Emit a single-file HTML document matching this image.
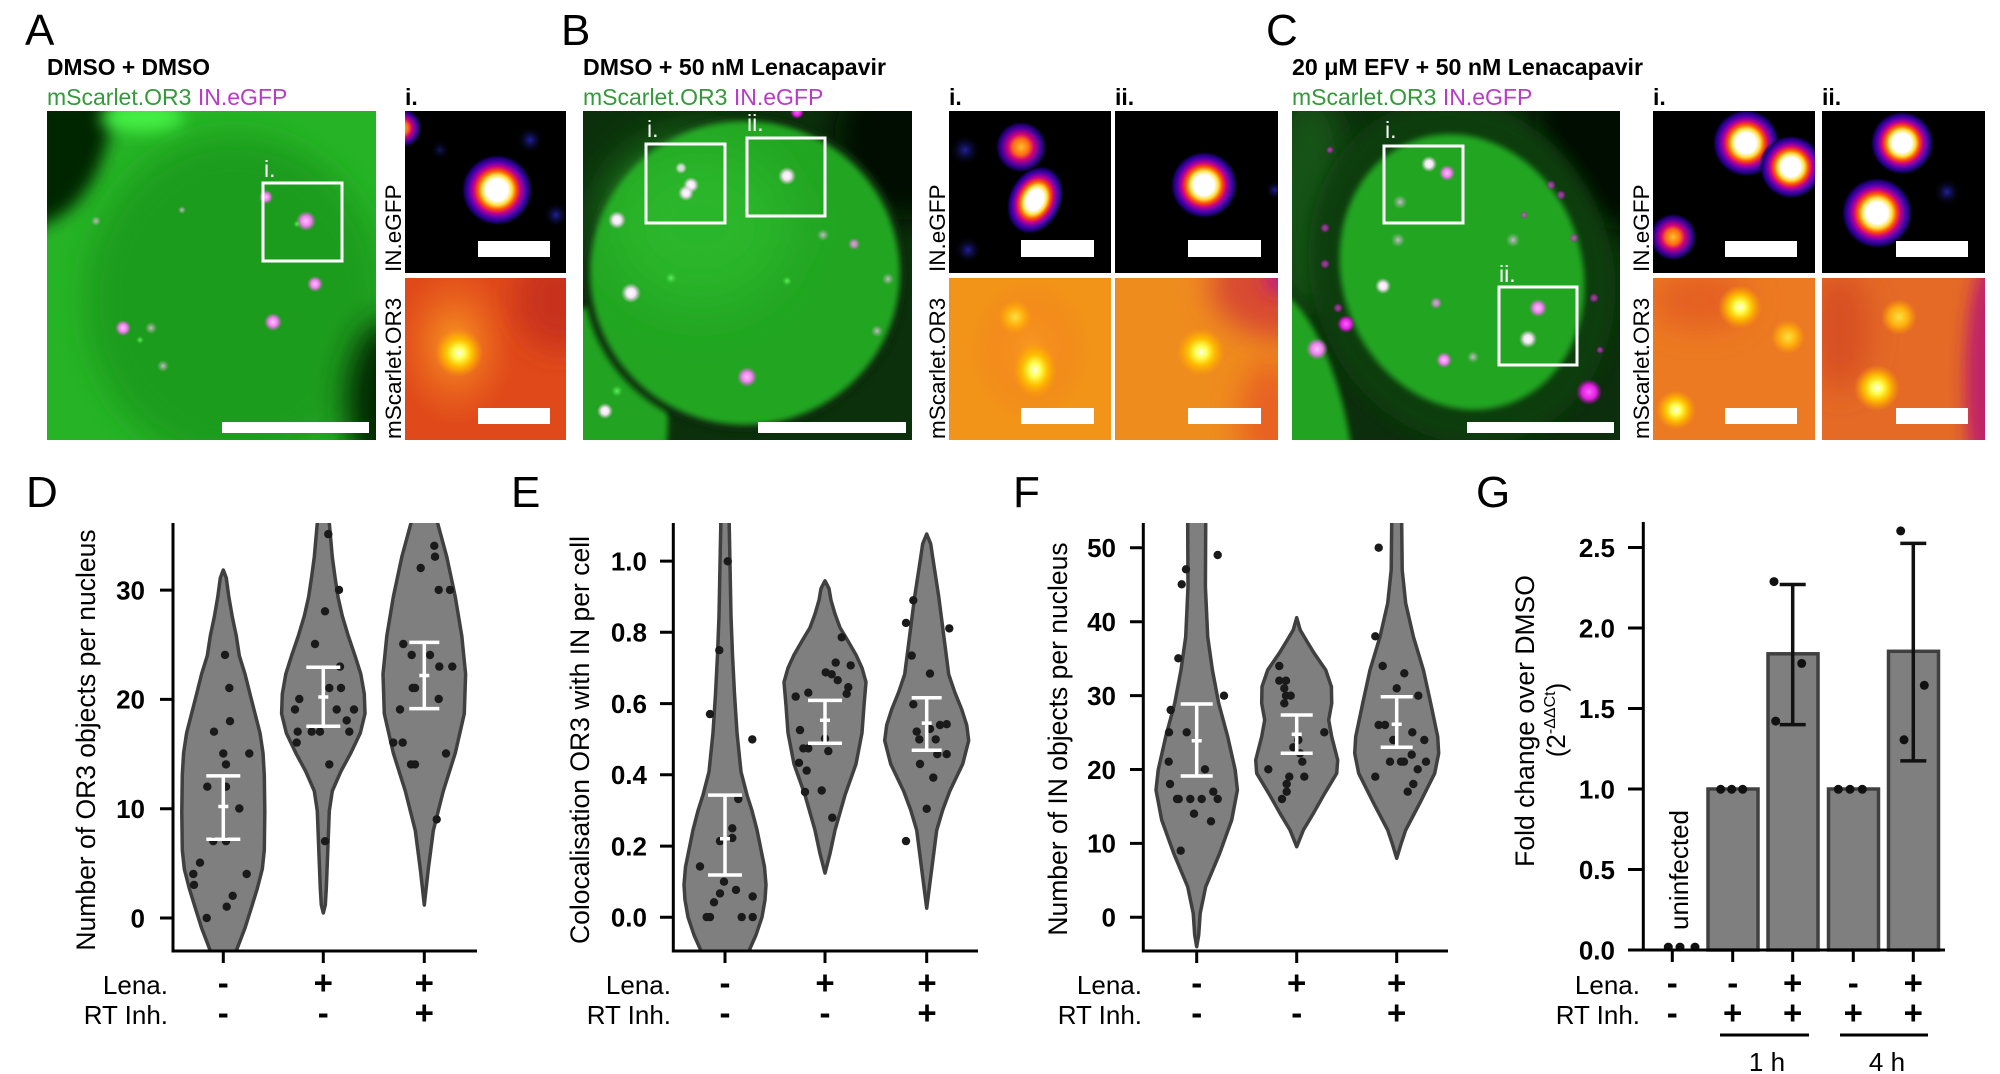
<!DOCTYPE html>
<html><head><meta charset="utf-8"><style>
html,body{margin:0;padding:0;background:#fff;}
svg{display:block;}
text{font-family:"Liberation Sans",Arial,sans-serif;}
</style></head><body>
<svg width="2000" height="1074" viewBox="0 0 2000 1074" xmlns="http://www.w3.org/2000/svg">
<defs>
<filter id="b3" x="-50%" y="-50%" width="200%" height="200%"><feGaussianBlur stdDeviation="3"/></filter>
<filter id="b8" x="-50%" y="-50%" width="200%" height="200%"><feGaussianBlur stdDeviation="8"/></filter>
<filter id="b15" x="-50%" y="-50%" width="200%" height="200%"><feGaussianBlur stdDeviation="15"/></filter>
<filter id="b25" x="-50%" y="-50%" width="200%" height="200%"><feGaussianBlur stdDeviation="25"/></filter>
<radialGradient id="fire"><stop offset="0" stop-color="#fff"/><stop offset="0.3" stop-color="#fff"/><stop offset="0.42" stop-color="#ffe040"/><stop offset="0.54" stop-color="#ff5000"/><stop offset="0.65" stop-color="#c8008c"/><stop offset="0.78" stop-color="#5000b0"/><stop offset="0.9" stop-color="#1a0070"/><stop offset="1" stop-color="#000" stop-opacity="0"/></radialGradient>
<radialGradient id="fire2"><stop offset="0" stop-color="#ffc030"/><stop offset="0.3" stop-color="#ff7010"/><stop offset="0.5" stop-color="#d0007a"/><stop offset="0.72" stop-color="#5000a0"/><stop offset="0.88" stop-color="#180060"/><stop offset="1" stop-color="#000" stop-opacity="0"/></radialGradient>
<radialGradient id="blue"><stop offset="0" stop-color="#2020a0"/><stop offset="1" stop-color="#000" stop-opacity="0"/></radialGradient>
<radialGradient id="ysp"><stop offset="0" stop-color="#ffffe8"/><stop offset="0.25" stop-color="#ffff50"/><stop offset="0.55" stop-color="#ffc000"/><stop offset="1" stop-color="#ffa000" stop-opacity="0"/></radialGradient>
<radialGradient id="ysp2"><stop offset="0" stop-color="#ffe040"/><stop offset="0.5" stop-color="#ffb010"/><stop offset="1" stop-color="#ffa000" stop-opacity="0"/></radialGradient>
<radialGradient id="oglow"><stop offset="0" stop-color="#f89a20"/><stop offset="1" stop-color="#f07020" stop-opacity="0"/></radialGradient>
<radialGradient id="wsp"><stop offset="0" stop-color="#fff"/><stop offset="0.45" stop-color="#f4e4f4"/><stop offset="1" stop-color="#e0c0e0" stop-opacity="0"/></radialGradient>
<radialGradient id="msp"><stop offset="0" stop-color="#ffc0ff"/><stop offset="0.5" stop-color="#f080f0"/><stop offset="1" stop-color="#e060e0" stop-opacity="0"/></radialGradient>
<radialGradient id="mag"><stop offset="0" stop-color="#ff60ff"/><stop offset="0.55" stop-color="#e020e0"/><stop offset="1" stop-color="#c000c0" stop-opacity="0"/></radialGradient>
<radialGradient id="gsp"><stop offset="0" stop-color="#c8b8c8"/><stop offset="1" stop-color="#a0b0a0" stop-opacity="0"/></radialGradient>
<radialGradient id="grn"><stop offset="0" stop-color="#60f060"/><stop offset="1" stop-color="#40d040" stop-opacity="0"/></radialGradient>
<clipPath id="cA"><rect x="47" y="111" width="329" height="329"/></clipPath>
<clipPath id="cB"><rect x="583" y="111" width="329" height="329"/></clipPath>
<clipPath id="cC"><rect x="1292" y="111" width="328" height="329"/></clipPath>
<clipPath id="iA1"><rect x="405" y="111" width="161" height="162"/></clipPath>
<clipPath id="iA2"><rect x="405" y="278" width="161" height="162"/></clipPath>
<clipPath id="iB1"><rect x="949" y="111" width="162" height="162"/></clipPath>
<clipPath id="iB2"><rect x="949" y="278" width="162" height="162"/></clipPath>
<clipPath id="iB3"><rect x="1115" y="111" width="163" height="162"/></clipPath>
<clipPath id="iB4"><rect x="1115" y="278" width="163" height="162"/></clipPath>
<clipPath id="iC1"><rect x="1653" y="111" width="162" height="162"/></clipPath>
<clipPath id="iC2"><rect x="1653" y="278" width="162" height="162"/></clipPath>
<clipPath id="iC3"><rect x="1822" y="111" width="163" height="162"/></clipPath>
<clipPath id="iC4"><rect x="1822" y="278" width="163" height="162"/></clipPath>
<clipPath id="pD"><rect x="173" y="523" width="310" height="428"/></clipPath>
<clipPath id="pE"><rect x="673" y="523" width="310" height="428"/></clipPath>
<clipPath id="pF"><rect x="1143" y="523" width="310" height="428"/></clipPath>
</defs>

<!-- Panel letters -->
<g font-size="44" fill="#000">
<text x="25" y="45">A</text>
<text x="561" y="45">B</text>
<text x="1266" y="45">C</text>
<text x="26" y="507">D</text>
<text x="511" y="507">E</text>
<text x="1013" y="507">F</text>
<text x="1476" y="507">G</text>
</g>

<!-- Titles -->
<g font-size="23" font-weight="bold">
<text x="47" y="75" textLength="163" lengthAdjust="spacingAndGlyphs">DMSO + DMSO</text>
<text x="583" y="75" textLength="303" lengthAdjust="spacingAndGlyphs">DMSO + 50 nM Lenacapavir</text>
<text x="1292" y="75" textLength="351" lengthAdjust="spacingAndGlyphs">20 μM EFV + 50 nM Lenacapavir</text>
<text x="405" y="105">i.</text>
<text x="949" y="105">i.</text>
<text x="1115" y="105">ii.</text>
<text x="1653" y="105">i.</text>
<text x="1822" y="105">ii.</text>
</g>
<g font-size="23">
<text x="47" y="105"><tspan fill="#33993a">mScarlet.OR3</tspan><tspan fill="#b83cc8"> IN.eGFP</tspan></text>
<text x="583" y="105"><tspan fill="#33993a">mScarlet.OR3</tspan><tspan fill="#b83cc8"> IN.eGFP</tspan></text>
<text x="1292" y="105"><tspan fill="#33993a">mScarlet.OR3</tspan><tspan fill="#b83cc8"> IN.eGFP</tspan></text>
</g>
<!-- rotated inset labels -->
<g font-size="22.5" fill="#000">
<text transform="translate(401,272) rotate(-90)">IN.eGFP</text>
<text transform="translate(401,439) rotate(-90)">mScarlet.OR3</text>
<text transform="translate(945,272) rotate(-90)">IN.eGFP</text>
<text transform="translate(945,439) rotate(-90)">mScarlet.OR3</text>
<text transform="translate(1649,272) rotate(-90)">IN.eGFP</text>
<text transform="translate(1649,439) rotate(-90)">mScarlet.OR3</text>
</g>

<!-- ===== Panel A image ===== -->
<g clip-path="url(#cA)">
<rect x="47" y="111" width="329" height="329" fill="#26b426"/>
<ellipse cx="235" cy="300" rx="150" ry="165" fill="#1c9c1c" filter="url(#b15)"/>
<path d="M30,95 L114,95 C110,150 96,190 62,215 L30,232 Z" fill="#062806" filter="url(#b8)"/>
<ellipse cx="142" cy="117" rx="42" ry="15" fill="#44f044" filter="url(#b8)"/>
<ellipse cx="388" cy="405" rx="42" ry="85" fill="#062806" filter="url(#b15)"/>
<circle cx="306" cy="221" r="10" fill="url(#msp)"/>
<circle cx="266" cy="197" r="7" fill="url(#msp)"/>
<circle cx="315" cy="284" r="8" fill="url(#msp)"/>
<circle cx="273" cy="322" r="9" fill="url(#msp)"/>
<circle cx="123" cy="328" r="8" fill="url(#msp)"/>
<circle cx="151" cy="328" r="6" fill="url(#gsp)"/>
<circle cx="163" cy="366" r="6" fill="url(#gsp)"/>
<circle cx="96" cy="221" r="5" fill="url(#gsp)"/>
<circle cx="182" cy="210" r="4" fill="url(#gsp)"/>
<circle cx="297" cy="224" r="4" fill="url(#grn)"/>
<circle cx="140" cy="340" r="4" fill="url(#grn)"/>
<rect x="263" y="183" width="79" height="78" fill="none" stroke="#fff" stroke-width="3"/>
<text x="264" y="177" font-size="23" fill="#fff">i.</text>
<rect x="222" y="422" width="147" height="11" fill="#fff"/>
</g>

<!-- A insets -->
<g clip-path="url(#iA1)">
<rect x="405" y="111" width="161" height="162" fill="#000"/>
<circle cx="402" cy="128" r="20" fill="url(#fire2)"/>
<circle cx="530" cy="140" r="14" fill="url(#blue)"/>
<circle cx="556" cy="215" r="13" fill="url(#blue)"/>
<circle cx="440" cy="150" r="10" fill="url(#blue)" opacity="0.6"/>
<circle cx="497" cy="190" r="36" fill="url(#fire)"/>
<rect x="478" y="241" width="72" height="16" fill="#fff"/>
</g>
<g clip-path="url(#iA2)">
<rect x="405" y="278" width="161" height="162" fill="#e04a1a"/>
<ellipse cx="560" cy="300" rx="45" ry="50" fill="#c8301a" filter="url(#b15)"/>
<ellipse cx="455" cy="345" rx="60" ry="80" fill="url(#oglow)"/>
<circle cx="459" cy="353" r="24" fill="url(#ysp)"/>
<rect x="478" y="408" width="72" height="16" fill="#fff"/>
</g>

<!-- ===== Panel B image ===== -->
<g clip-path="url(#cB)">
<rect x="583" y="111" width="329" height="329" fill="#0b300b"/>
<ellipse cx="905" cy="140" rx="70" ry="80" fill="#031003" filter="url(#b15)"/>
<ellipse cx="600" cy="420" rx="68" ry="115" fill="#22a422" filter="url(#b3)"/>
<ellipse cx="745" cy="273" rx="162" ry="159" fill="#0a2c0a" filter="url(#b3)"/>
<ellipse cx="745" cy="273" rx="155" ry="152" fill="#22a622" filter="url(#b3)"/>
<ellipse cx="700" cy="225" rx="90" ry="80" fill="#2ab62a" filter="url(#b25)"/>
<circle cx="797" cy="112" r="7" fill="url(#mag)"/>
<circle cx="681" cy="168" r="6" fill="url(#wsp)" opacity="0.8"/>
<circle cx="691" cy="185" r="8" fill="url(#wsp)"/>
<circle cx="686" cy="193" r="8" fill="url(#wsp)"/>
<circle cx="787" cy="176" r="9" fill="url(#wsp)"/>
<circle cx="617" cy="220" r="9" fill="url(#wsp)"/>
<circle cx="631" cy="293" r="10" fill="url(#wsp)"/>
<circle cx="605" cy="411" r="8" fill="url(#wsp)"/>
<circle cx="747" cy="377" r="10" fill="url(#msp)"/>
<circle cx="823" cy="235" r="6" fill="url(#gsp)"/>
<circle cx="854" cy="244" r="6" fill="url(#msp)" opacity="0.7"/>
<circle cx="888" cy="279" r="6" fill="url(#gsp)"/>
<circle cx="877" cy="331" r="6" fill="url(#gsp)"/>
<circle cx="671" cy="278" r="6" fill="url(#grn)"/>
<circle cx="617" cy="391" r="6" fill="url(#grn)"/>
<circle cx="787" cy="281" r="5" fill="url(#grn)"/>
<rect x="646" y="144" width="79" height="79" fill="none" stroke="#fff" stroke-width="3"/>
<rect x="747" y="138" width="78" height="78" fill="none" stroke="#fff" stroke-width="3"/>
<text x="647" y="137" font-size="23" fill="#fff">i.</text>
<text x="747" y="131" font-size="23" fill="#fff">ii.</text>
<rect x="758" y="422" width="148" height="11" fill="#fff"/>
</g>

<!-- B insets -->
<g clip-path="url(#iB1)">
<rect x="949" y="111" width="162" height="162" fill="#000"/>
<circle cx="965" cy="150" r="16" fill="url(#blue)"/>
<circle cx="968" cy="250" r="14" fill="url(#blue)"/>
<circle cx="1021" cy="147" r="26" fill="url(#fire2)"/>
<ellipse cx="1035" cy="200" rx="27" ry="36" transform="rotate(25 1035 200)" fill="url(#fire)"/>
<rect x="1021" y="240" width="73" height="17" fill="#fff"/>
</g>
<g clip-path="url(#iB3)">
<rect x="1115" y="111" width="163" height="162" fill="#000"/>
<circle cx="1275" cy="190" r="10" fill="url(#blue)"/>
<circle cx="1204" cy="185" r="34" fill="url(#fire)"/>
<rect x="1188" y="240" width="73" height="17" fill="#fff"/>
</g>
<g clip-path="url(#iB2)">
<rect x="949" y="278" width="162" height="162" fill="#f29418"/>
<ellipse cx="1030" cy="350" rx="60" ry="70" fill="url(#oglow)"/>
<circle cx="1015" cy="317" r="17" fill="url(#ysp2)"/>
<ellipse cx="1035" cy="370" rx="22" ry="28" fill="url(#ysp)"/>
<rect x="1021" y="408" width="73" height="16" fill="#fff"/>
</g>
<g clip-path="url(#iB4)">
<rect x="1115" y="278" width="163" height="162" fill="#ef8c1e"/>
<ellipse cx="1290" cy="285" rx="80" ry="55" fill="#d84a30" filter="url(#b15)"/>
<circle cx="1278" cy="280" r="14" fill="#c0207a" filter="url(#b8)"/>
<ellipse cx="1270" cy="420" rx="30" ry="60" fill="#e86020" filter="url(#b15)"/>
<circle cx="1201" cy="352" r="24" fill="url(#ysp)"/>
<rect x="1188" y="408" width="73" height="16" fill="#fff"/>
</g>

<!-- ===== Panel C image ===== -->
<g clip-path="url(#cC)">
<rect x="1292" y="111" width="328" height="329" fill="#0c2e0c"/>
<ellipse cx="1310" cy="200" rx="40" ry="110" fill="#165216" filter="url(#b15)"/>
<ellipse cx="1625" cy="120" rx="90" ry="110" fill="#020a02" filter="url(#b15)"/>
<ellipse cx="1462" cy="272" rx="150" ry="175" transform="rotate(-20 1462 272)" fill="#0e3c0e" filter="url(#b8)"/>
<ellipse cx="1305" cy="410" rx="38" ry="120" transform="rotate(-15 1305 410)" fill="#22a422" filter="url(#b3)"/>
<ellipse cx="1462" cy="272" rx="120" ry="140" transform="rotate(-20 1462 272)" fill="#23a623" filter="url(#b3)"/>
<circle cx="1429" cy="164" r="8" fill="url(#wsp)"/>
<circle cx="1447" cy="173" r="8" fill="url(#msp)"/>
<circle cx="1400" cy="202" r="7" fill="url(#gsp)"/>
<circle cx="1398" cy="240" r="7" fill="url(#gsp)"/>
<circle cx="1513" cy="240" r="7" fill="url(#gsp)"/>
<circle cx="1383" cy="286" r="8" fill="url(#wsp)"/>
<circle cx="1436" cy="303" r="6" fill="url(#msp)" opacity="0.7"/>
<circle cx="1538" cy="308" r="9" fill="url(#msp)"/>
<circle cx="1528" cy="339" r="9" fill="url(#wsp)"/>
<circle cx="1444" cy="360" r="8" fill="url(#msp)"/>
<circle cx="1473" cy="357" r="6" fill="url(#gsp)"/>
<circle cx="1346" cy="324" r="9" fill="url(#mag)"/>
<circle cx="1317" cy="349" r="11" fill="url(#msp)"/>
<circle cx="1589" cy="392" r="13" fill="url(#mag)"/>
<g fill="url(#mag)" opacity="0.55">
<circle cx="1551" cy="185" r="5"/><circle cx="1561" cy="195" r="5"/><circle cx="1325" cy="228" r="5"/><circle cx="1325" cy="264" r="5"/><circle cx="1338" cy="308" r="5"/><circle cx="1594" cy="298" r="5"/><circle cx="1574" cy="238" r="5"/><circle cx="1524" cy="215" r="4"/><circle cx="1330" cy="150" r="4"/><circle cx="1600" cy="350" r="4"/>
</g>
<rect x="1384" y="146" width="79" height="77" fill="none" stroke="#fff" stroke-width="3"/>
<rect x="1499" y="287" width="78" height="78" fill="none" stroke="#fff" stroke-width="3"/>
<text x="1385" y="138" font-size="23" fill="#fff">i.</text>
<text x="1499" y="282" font-size="23" fill="#fff">ii.</text>
<rect x="1467" y="422" width="147" height="11" fill="#fff"/>
</g>

<!-- C insets -->
<g clip-path="url(#iC1)">
<rect x="1653" y="111" width="162" height="162" fill="#000"/>
<circle cx="1746" cy="143" r="34" fill="url(#fire)"/>
<circle cx="1791" cy="167" r="32" fill="url(#fire)"/>
<circle cx="1673" cy="237" r="24" fill="url(#fire2)"/>
<rect x="1725" y="241" width="72" height="16" fill="#fff"/>
</g>
<g clip-path="url(#iC3)">
<rect x="1822" y="111" width="163" height="162" fill="#000"/>
<circle cx="1947" cy="192" r="14" fill="url(#blue)"/>
<circle cx="1902" cy="143" r="32" fill="url(#fire)"/>
<circle cx="1877" cy="213" r="36" fill="url(#fire)"/>
<rect x="1896" y="241" width="72" height="16" fill="#fff"/>
</g>
<g clip-path="url(#iC2)">
<rect x="1653" y="278" width="162" height="162" fill="#ec7a22"/>
<ellipse cx="1700" cy="300" rx="50" ry="30" fill="#e46020" filter="url(#b15)"/>
<circle cx="1740" cy="307" r="22" fill="url(#ysp)"/>
<circle cx="1788" cy="337" r="17" fill="url(#ysp2)"/>
<circle cx="1676" cy="410" r="20" fill="url(#ysp)"/>
<rect x="1725" y="408" width="72" height="16" fill="#fff"/>
</g>
<g clip-path="url(#iC4)">
<rect x="1822" y="278" width="163" height="162" fill="#e46a26"/>
<ellipse cx="1990" cy="380" rx="25" ry="120" fill="#c02468" filter="url(#b8)"/>
<ellipse cx="1840" cy="330" rx="30" ry="60" fill="#d85024" filter="url(#b15)"/>
<circle cx="1899" cy="317" r="18" fill="url(#ysp2)"/>
<circle cx="1877" cy="388" r="23" fill="url(#ysp)"/>
<rect x="1896" y="408" width="72" height="16" fill="#fff"/>
</g>

<!-- ===== Panel D ===== -->
<g clip-path="url(#pD)" fill="#7f7f7f" stroke="#404040" stroke-width="3.5" stroke-linejoin="round">
<polygon points="223.3,570 226.3,578 228.8,596.7 232.3,616.9 236.3,636 239.3,655.7 245,674 250,694 255,713.6 260,733 263,753 264.3,775 264.8,812 264.3,850 262.3,869 257.3,888.5 251.3,908 245,928 235.8,952 231.3,965 215.3,965 210.8,952 201.6,928 195.3,908 189.3,888.5 184.3,869 182.3,850 181.8,812 182.3,775 183.6,753 186.6,733 191.6,713.6 196.6,694 201.6,674 207.3,655.7 210.3,636 214.3,616.9 217.8,596.7 220.3,578"/>
<polygon points="329.3,515 329.3,523 332.3,557 335,577 338,597 342.3,616 348.3,636 355,655.7 360.8,674 364.3,694 365,713.6 360.3,733 350.8,753 340.8,771.5 332.3,791 329.3,811 327.8,850 326.3,888.5 325.3,905 323.3,913 321.3,905 320.3,888.5 318.8,850 317.3,811 314.3,791 305.8,771.5 295.8,753 286.3,733 281.6,713.6 282.3,694 285.8,674 291.6,655.7 298.3,636 304.3,616 308.6,597 311.6,577 314.3,557 317.3,523 317.3,515"/>
<polygon points="436.3,515 437.6,523 446.8,557 455.3,597 461.8,636 465.6,674 464.3,713.6 455.3,753 443.3,791 433.3,830.6 428.3,869 424.3,905 420.3,869 415.3,830.6 405.3,791 393.3,753 384.3,713.6 383,674 386.8,636 393.3,597 401.8,557 411,523 412.3,515"/>
</g>
<g fill="#1a1a1a">
<circle cx="225" cy="654.9" r="4.2"/><circle cx="229.3" cy="688" r="4.2"/><circle cx="230" cy="721.2" r="4.2"/><circle cx="214" cy="731.7" r="4.2"/><circle cx="223.3" cy="753.5" r="4.2"/><circle cx="249.3" cy="753.5" r="4.2"/><circle cx="226" cy="764.4" r="4.2"/><circle cx="207.3" cy="786.7" r="4.2"/><circle cx="226" cy="786.7" r="4.2"/><circle cx="239.3" cy="808.5" r="4.2"/><circle cx="213.3" cy="841.2" r="4.2"/><circle cx="226" cy="841.2" r="4.2"/><circle cx="200" cy="862.7" r="4.2"/><circle cx="193.3" cy="874" r="4.2"/><circle cx="194" cy="884.9" r="4.2"/><circle cx="246.7" cy="874" r="4.2"/><circle cx="232.7" cy="895.8" r="4.2"/><circle cx="226.7" cy="906.7" r="4.2"/><circle cx="206.7" cy="918" r="4.2"/>
<circle cx="328.3" cy="534.1" r="4.2"/><circle cx="339" cy="589.9" r="4.2"/><circle cx="325" cy="611.3" r="4.2"/><circle cx="315" cy="644" r="4.2"/><circle cx="299.3" cy="699" r="4.2"/><circle cx="295" cy="709.5" r="4.2"/><circle cx="336.7" cy="709.5" r="4.2"/><circle cx="354" cy="709.5" r="4.2"/><circle cx="341" cy="688" r="4.2"/><circle cx="329.3" cy="688" r="4.2"/><circle cx="297.7" cy="731.7" r="4.2"/><circle cx="311.7" cy="731.7" r="4.2"/><circle cx="320" cy="731.7" r="4.2"/><circle cx="349.3" cy="731.7" r="4.2"/><circle cx="346.7" cy="720.4" r="4.2"/><circle cx="296.7" cy="742.6" r="4.2"/><circle cx="329.3" cy="764.4" r="4.2"/><circle cx="325" cy="841.2" r="4.2"/><circle cx="340" cy="666.6" r="4.2"/>
<circle cx="434.3" cy="545.8" r="4.2"/><circle cx="435" cy="556.7" r="4.2"/><circle cx="420.7" cy="568" r="4.2"/><circle cx="438.7" cy="589.9" r="4.2"/><circle cx="450" cy="589.9" r="4.2"/><circle cx="403.3" cy="644" r="4.2"/><circle cx="411.7" cy="655" r="4.2"/><circle cx="430" cy="655" r="4.2"/><circle cx="439.3" cy="666.6" r="4.2"/><circle cx="452.3" cy="666.6" r="4.2"/><circle cx="412.7" cy="688" r="4.2"/><circle cx="415" cy="688" r="4.2"/><circle cx="438.7" cy="699" r="4.2"/><circle cx="400" cy="709.5" r="4.2"/><circle cx="393.3" cy="742.6" r="4.2"/><circle cx="402.7" cy="742.6" r="4.2"/><circle cx="411" cy="764.4" r="4.2"/><circle cx="415" cy="764.4" r="4.2"/><circle cx="446" cy="753.5" r="4.2"/><circle cx="436.7" cy="819.4" r="4.2"/>
</g>
<g stroke="#fff" stroke-width="3.5" fill="none">
<path d="M223.3,775.9V839.3M206.3,775.9H240.3M206.3,839.3H240.3M218.3,806.5H228.3"/>
<path d="M323.3,667.3V726.2M306.3,667.3H340.3M306.3,726.2H340.3M318.3,697H328.3"/>
<path d="M424.3,642.4V708.6M409.3,642.4H439.3M409.3,708.6H439.3M419.3,675.5H429.3"/>
</g>
<g stroke="#000" stroke-width="3" fill="none">
<path d="M173,523V952.5M171.5,951H477"/>
<path d="M160,918H173M160,808.7H173M160,699.4H173M160,590.1H173"/>
<path d="M223.3,951V963M323.3,951V963M424.3,951V963"/>
</g>
<g font-size="26" font-weight="bold" text-anchor="end">
<text x="145" y="927.3">0</text><text x="145" y="818">10</text><text x="145" y="708.7">20</text><text x="145" y="599.4">30</text>
</g>
<text transform="translate(95,740) rotate(-90)" font-size="26.5" text-anchor="middle">Number of OR3 objects per nucleus</text>
<g font-size="26" text-anchor="end"><text x="168" y="994">Lena.</text><text x="168" y="1024">RT Inh.</text></g>
<g font-size="33" font-weight="bold" text-anchor="middle">
<text x="223.3" y="994">-</text><text x="323.3" y="994">+</text><text x="424.3" y="994">+</text>
<text x="223.3" y="1024">-</text><text x="323.3" y="1024">-</text><text x="424.3" y="1024">+</text>
</g>

<!-- ===== Panel E ===== -->
<g clip-path="url(#pE)" fill="#7f7f7f" stroke="#404040" stroke-width="3.5" stroke-linejoin="round">
<polygon points="729.2,515 729.2,524.3 731,615.9 732.5,654.9 734.5,693.8 737,732.8 741,771.8 747,795 752,810.7 757,830 761,849.7 764.5,867 766,884.8 765,900 762,917.1 756,935 748,953 743,965 707,965 702,953 694,935 688,917.1 685,900 684,884.8 685.5,867 689,849.7 693,830 698,810.7 703,795 709,771.8 713,732.8 715.5,693.8 717.5,654.9 719,615.9 720.8,524.3 720.8,515"/>
<polygon points="825,580.8 829,588.6 831,600.3 835,614 840,627.6 848,641 856,654.9 862,668 866,682.1 864,705.5 862,732.8 856,764 845,795.1 835,830.2 830,853.6 825,873.1 820,853.6 815,830.2 805,795.1 794,764 788,732.8 786,705.5 784,682.1 788,668 794,654.9 802,641 810,627.6 815,614 819,600.3 821,588.6"/>
<polygon points="926.7,534 930.7,543.8 932.7,557.4 938.7,596.4 943.7,635.4 948.7,674.3 954.7,692 961.7,709.4 966.7,725 968.7,740.6 962.7,764 949.7,791.3 942.7,810 936.7,830.2 931.7,869.2 926.7,908.2 921.7,869.2 916.7,830.2 910.7,810 903.7,791.3 890.7,764 884.7,740.6 886.7,725 891.7,709.4 898.7,692 904.7,674.3 909.7,635.4 914.7,596.4 920.7,557.4 922.7,543.8"/>
</g>
<g fill="#1a1a1a">
<circle cx="727.7" cy="561.3" r="4.2"/><circle cx="719.3" cy="650.2" r="4.2"/><circle cx="710" cy="714.1" r="4.2"/><circle cx="752.3" cy="739.4" r="4.2"/><circle cx="738.3" cy="799" r="4.2"/><circle cx="732.3" cy="828.3" r="4.2"/><circle cx="732.3" cy="838" r="4.2"/><circle cx="720" cy="841.1" r="4.2"/><circle cx="700" cy="866.5" r="4.2"/><circle cx="724" cy="881.7" r="4.2"/><circle cx="720" cy="893.4" r="4.2"/><circle cx="736" cy="889.9" r="4.2"/><circle cx="714" cy="902.3" r="4.2"/><circle cx="752.7" cy="896.5" r="4.2"/><circle cx="706.7" cy="917.1" r="4.2"/><circle cx="710" cy="917.1" r="4.2"/><circle cx="741.7" cy="917.1" r="4.2"/><circle cx="752.7" cy="917.1" r="4.2"/>
<circle cx="841.7" cy="637.3" r="4.2"/><circle cx="850.7" cy="665.4" r="4.2"/><circle cx="835.7" cy="662.6" r="4.2"/><circle cx="825.7" cy="672.4" r="4.2"/><circle cx="831.7" cy="674.3" r="4.2"/><circle cx="837.7" cy="680.2" r="4.2"/><circle cx="848.3" cy="687.2" r="4.2"/><circle cx="846.7" cy="693.8" r="4.2"/><circle cx="808.3" cy="692.7" r="4.2"/><circle cx="795.7" cy="696.6" r="4.2"/><circle cx="800" cy="730.1" r="4.2"/><circle cx="803.3" cy="748.4" r="4.2"/><circle cx="808.3" cy="748.4" r="4.2"/><circle cx="828.3" cy="751.1" r="4.2"/><circle cx="799" cy="762.8" r="4.2"/><circle cx="806.7" cy="770.6" r="4.2"/><circle cx="805" cy="792" r="4.2"/><circle cx="821.7" cy="790.5" r="4.2"/><circle cx="832.3" cy="817.7" r="4.2"/><circle cx="825" cy="738.6" r="4.2"/>
<circle cx="913.3" cy="600.3" r="4.2"/><circle cx="906" cy="622.9" r="4.2"/><circle cx="911.7" cy="655.6" r="4.2"/><circle cx="949.3" cy="628.4" r="4.2"/><circle cx="930" cy="673.6" r="4.2"/><circle cx="913.3" cy="704.3" r="4.2"/><circle cx="916.7" cy="731.6" r="4.2"/><circle cx="919.3" cy="739.4" r="4.2"/><circle cx="940" cy="725" r="4.2"/><circle cx="946.7" cy="724.2" r="4.2"/><circle cx="935.7" cy="739.4" r="4.2"/><circle cx="930" cy="728.9" r="4.2"/><circle cx="937.3" cy="754.2" r="4.2"/><circle cx="946.7" cy="754.2" r="4.2"/><circle cx="920" cy="764" r="4.2"/><circle cx="933.3" cy="777.6" r="4.2"/><circle cx="926.7" cy="808.8" r="4.2"/><circle cx="906" cy="841.1" r="4.2"/>
</g>
<g stroke="#fff" stroke-width="3.5" fill="none">
<path d="M725,795.1V875M708,795.1H742M708,875H742M720,838.8H730"/>
<path d="M825,700.4V743.3M808,700.4H842M808,743.3H842M820,720.3H830"/>
<path d="M926.7,697.7V750.3M911.7,697.7H941.7M911.7,750.3H941.7M921.7,723.1H931.7"/>
</g>
<g stroke="#000" stroke-width="3" fill="none">
<path d="M673.3,523V952.5M671.8,951H978"/>
<path d="M660,917.3H673M660,846.1H673M660,774.8H673M660,703.6H673M660,632.3H673M660,561.1H673"/>
<path d="M725,951V963M825,951V963M926.7,951V963"/>
</g>
<g font-size="26" font-weight="bold" text-anchor="end">
<text x="647" y="926.6">0.0</text><text x="647" y="855.4">0.2</text><text x="647" y="784.1">0.4</text><text x="647" y="712.9">0.6</text><text x="647" y="641.6">0.8</text><text x="647" y="570.4">1.0</text>
</g>
<text transform="translate(589,740) rotate(-90)" font-size="26.5" text-anchor="middle">Colocalisation OR3 with IN per cell</text>
<g font-size="26" text-anchor="end"><text x="671" y="994">Lena.</text><text x="671" y="1024">RT Inh.</text></g>
<g font-size="33" font-weight="bold" text-anchor="middle">
<text x="725" y="994">-</text><text x="825" y="994">+</text><text x="927" y="994">+</text>
<text x="725" y="1024">-</text><text x="825" y="1024">-</text><text x="927" y="1024">+</text>
</g>

<!-- ===== Panel F ===== -->
<g clip-path="url(#pF)" fill="#7f7f7f" stroke="#404040" stroke-width="3.5" stroke-linejoin="round">
<polygon points="1205.7,515 1205.7,525 1205.4,586.7 1207.7,636.7 1212.4,670 1218.7,703.3 1227.7,736.7 1235.2,770 1237.4,790 1231.7,820 1219.7,853.3 1205.7,886.7 1200.2,913.3 1198.7,935 1196.7,946.7 1194.7,935 1193.2,913.3 1187.7,886.7 1173.7,853.3 1161.7,820 1156,790 1158.2,770 1165.7,736.7 1174.7,703.3 1181,670 1185.7,636.7 1188,586.7 1187.7,525 1187.7,515"/>
<polygon points="1296.7,617.7 1300.2,630 1306.7,641 1314.2,653.3 1325.7,670 1331.4,686.7 1331.7,703.3 1328.7,720 1331.7,736.7 1337.7,760 1336.7,773.3 1324.7,793.3 1313.4,813.3 1303.4,830 1296.7,846.7 1290,830 1280,813.3 1268.7,793.3 1256.7,773.3 1255.7,760 1261.7,736.7 1264.7,720 1261.7,703.3 1262,686.7 1267.7,670 1279.2,653.3 1286.7,641 1293.2,630"/>
<polygon points="1401.7,515 1401.7,525 1402.2,570 1405.7,603.3 1413.4,636.7 1423.4,670 1430.7,703.3 1437.7,736.7 1438.7,753.3 1434.7,773.3 1419.7,803.3 1405.7,830 1400.7,845 1396.7,858.3 1392.7,845 1387.7,830 1373.7,803.3 1358.7,773.3 1354.7,753.3 1355.7,736.7 1362.7,703.3 1370,670 1380,636.7 1387.7,603.3 1391.2,570 1391.7,525 1391.7,515"/>
</g>
<g fill="#1a1a1a">
<circle cx="1217.7" cy="555" r="4.2"/><circle cx="1186" cy="569.3" r="4.2"/><circle cx="1181.7" cy="584.3" r="4.2"/><circle cx="1178.3" cy="658.3" r="4.2"/><circle cx="1224" cy="695.7" r="4.2"/><circle cx="1170.7" cy="710" r="4.2"/><circle cx="1169" cy="732.3" r="4.2"/><circle cx="1186.7" cy="732.3" r="4.2"/><circle cx="1168.7" cy="761.7" r="4.2"/><circle cx="1205" cy="769.3" r="4.2"/><circle cx="1170" cy="784" r="4.2"/><circle cx="1177" cy="799" r="4.2"/><circle cx="1178.7" cy="799" r="4.2"/><circle cx="1190.3" cy="799" r="4.2"/><circle cx="1201.7" cy="799" r="4.2"/><circle cx="1213.3" cy="791.7" r="4.2"/><circle cx="1217.7" cy="799" r="4.2"/><circle cx="1194" cy="813.7" r="4.2"/><circle cx="1211" cy="821.3" r="4.2"/><circle cx="1180.7" cy="850.7" r="4.2"/>
<circle cx="1279.3" cy="666" r="4.2"/><circle cx="1279.3" cy="680.7" r="4.2"/><circle cx="1286" cy="680.7" r="4.2"/><circle cx="1284.3" cy="688.3" r="4.2"/><circle cx="1286" cy="695.7" r="4.2"/><circle cx="1290.7" cy="695.7" r="4.2"/><circle cx="1284.3" cy="703.3" r="4.2"/><circle cx="1324.3" cy="732.3" r="4.2"/><circle cx="1298.3" cy="740" r="4.2"/><circle cx="1293.3" cy="747.3" r="4.2"/><circle cx="1302.3" cy="761.7" r="4.2"/><circle cx="1268.3" cy="769.3" r="4.2"/><circle cx="1289.3" cy="776.7" r="4.2"/><circle cx="1286.7" cy="784" r="4.2"/><circle cx="1286.7" cy="791.7" r="4.2"/><circle cx="1282" cy="799" r="4.2"/><circle cx="1304.3" cy="776.7" r="4.2"/><circle cx="1300" cy="753.3" r="4.2"/>
<circle cx="1378.7" cy="547.7" r="4.2"/><circle cx="1375.3" cy="636.3" r="4.2"/><circle cx="1382.7" cy="666" r="4.2"/><circle cx="1404.3" cy="673.3" r="4.2"/><circle cx="1396.7" cy="688.3" r="4.2"/><circle cx="1418.3" cy="695.7" r="4.2"/><circle cx="1378.7" cy="725" r="4.2"/><circle cx="1385" cy="725" r="4.2"/><circle cx="1393.3" cy="740" r="4.2"/><circle cx="1412.3" cy="732.3" r="4.2"/><circle cx="1424.3" cy="740" r="4.2"/><circle cx="1411.7" cy="754.7" r="4.2"/><circle cx="1390" cy="761.7" r="4.2"/><circle cx="1401" cy="761.7" r="4.2"/><circle cx="1404" cy="761.7" r="4.2"/><circle cx="1426" cy="761.7" r="4.2"/><circle cx="1417.7" cy="769.3" r="4.2"/><circle cx="1375.3" cy="776.7" r="4.2"/><circle cx="1413.3" cy="784" r="4.2"/><circle cx="1407.7" cy="791.7" r="4.2"/>
</g>
<g stroke="#fff" stroke-width="3.5" fill="none">
<path d="M1196.7,704V776M1180.7,704H1212.7M1180.7,776H1212.7M1191.7,740.7H1201.7"/>
<path d="M1296.7,715V753.3M1280.7,715H1312.7M1280.7,753.3H1312.7M1291.7,734.3H1301.7"/>
<path d="M1396.7,696.7V747.3M1380.7,696.7H1412.7M1380.7,747.3H1412.7M1391.7,724.3H1401.7"/>
</g>
<g stroke="#000" stroke-width="3" fill="none">
<path d="M1143.3,523V952.5M1141.8,951H1448"/>
<path d="M1130,917.3H1143M1130,843.4H1143M1130,769.5H1143M1130,695.6H1143M1130,621.7H1143M1130,547.8H1143"/>
<path d="M1196.7,951V963M1296.7,951V963M1396.7,951V963"/>
</g>
<g font-size="26" font-weight="bold" text-anchor="end">
<text x="1116" y="926.6">0</text><text x="1116" y="852.7">10</text><text x="1116" y="778.8">20</text><text x="1116" y="704.9">30</text><text x="1116" y="631">40</text><text x="1116" y="557.1">50</text>
</g>
<text transform="translate(1067,739) rotate(-90)" font-size="26.5" text-anchor="middle">Number of IN objects per nucleus</text>
<g font-size="26" text-anchor="end"><text x="1142" y="994">Lena.</text><text x="1142" y="1024">RT Inh.</text></g>
<g font-size="33" font-weight="bold" text-anchor="middle">
<text x="1196.7" y="994">-</text><text x="1296.7" y="994">+</text><text x="1396.7" y="994">+</text>
<text x="1196.7" y="1024">-</text><text x="1296.7" y="1024">-</text><text x="1396.7" y="1024">+</text>
</g>

<!-- ===== Panel G ===== -->
<g fill="#7f7f7f" stroke="#404040" stroke-width="3.5">
<rect x="1708" y="789" width="50" height="161"/>
<rect x="1768" y="653.8" width="50" height="296.2"/>
<rect x="1828.5" y="789" width="50" height="161"/>
<rect x="1888.5" y="651.3" width="50" height="298.7"/>
</g>
<g fill="#111">
<circle cx="1668.3" cy="947.1" r="4.5"/><circle cx="1680" cy="947.1" r="4.5"/><circle cx="1695" cy="947.1" r="4.5"/>
<circle cx="1720.7" cy="789.3" r="4.5"/><circle cx="1731.7" cy="789.3" r="4.5"/><circle cx="1742.7" cy="789.3" r="4.5"/>
<circle cx="1774" cy="581.6" r="4.5"/><circle cx="1801.7" cy="663.4" r="4.5"/><circle cx="1775.7" cy="721.1" r="4.5"/>
<circle cx="1838.3" cy="789.3" r="4.5"/><circle cx="1850" cy="789.3" r="4.5"/><circle cx="1862.3" cy="789.3" r="4.5"/>
<circle cx="1900.7" cy="530.9" r="4.5"/><circle cx="1924.3" cy="685.3" r="4.5"/><circle cx="1904" cy="739.8" r="4.5"/>
</g>
<g stroke="#111" stroke-width="3.5" fill="none">
<path d="M1792.7,584.5V724.6M1779.7,584.5H1805.7M1779.7,724.6H1805.7"/>
<path d="M1913.3,543.4V760.9M1900.3,543.4H1926.3M1900.3,760.9H1926.3"/>
</g>
<g stroke="#000" stroke-width="3" fill="none">
<path d="M1643.3,522V951.5M1641.8,950H1945"/>
<path d="M1628,950H1643M1628,869.5H1643M1628,789H1643M1628,708.5H1643M1628,628H1643M1628,547.5H1643"/>
<path d="M1672.3,950V962M1732.7,950V962M1792.7,950V962M1853.3,950V962M1913.3,950V962"/>
<path d="M1720,1035H1809M1840,1035H1928"/>
</g>
<g font-size="26" font-weight="bold" text-anchor="end">
<text x="1615" y="959.3">0.0</text><text x="1615" y="878.8">0.5</text><text x="1615" y="798.3">1.0</text><text x="1615" y="717.8">1.5</text><text x="1615" y="637.3">2.0</text><text x="1615" y="556.8">2.5</text>
</g>
<text transform="translate(1534,721) rotate(-90)" font-size="26.5" text-anchor="middle">Fold change over DMSO</text>
<text transform="translate(1565,720) rotate(-90)" font-size="26" text-anchor="middle">(2<tspan font-size="16" dy="-10">-ΔΔCt</tspan><tspan dy="10">)</tspan></text>
<text transform="translate(1688,870) rotate(-90)" font-size="26" text-anchor="middle">uninfected</text>
<g font-size="26" text-anchor="end"><text x="1640" y="994">Lena.</text><text x="1640" y="1024">RT Inh.</text></g>
<g font-size="33" font-weight="bold" text-anchor="middle">
<text x="1672.3" y="994">-</text><text x="1732.7" y="994">-</text><text x="1792.7" y="994">+</text><text x="1853.3" y="994">-</text><text x="1913.3" y="994">+</text>
<text x="1672.3" y="1024">-</text><text x="1732.7" y="1024">+</text><text x="1792.7" y="1024">+</text><text x="1853.3" y="1024">+</text><text x="1913.3" y="1024">+</text>
</g>
<g font-size="26" text-anchor="middle"><text x="1767" y="1071">1 h</text><text x="1887" y="1071">4 h</text></g>
</svg>
</body></html>
